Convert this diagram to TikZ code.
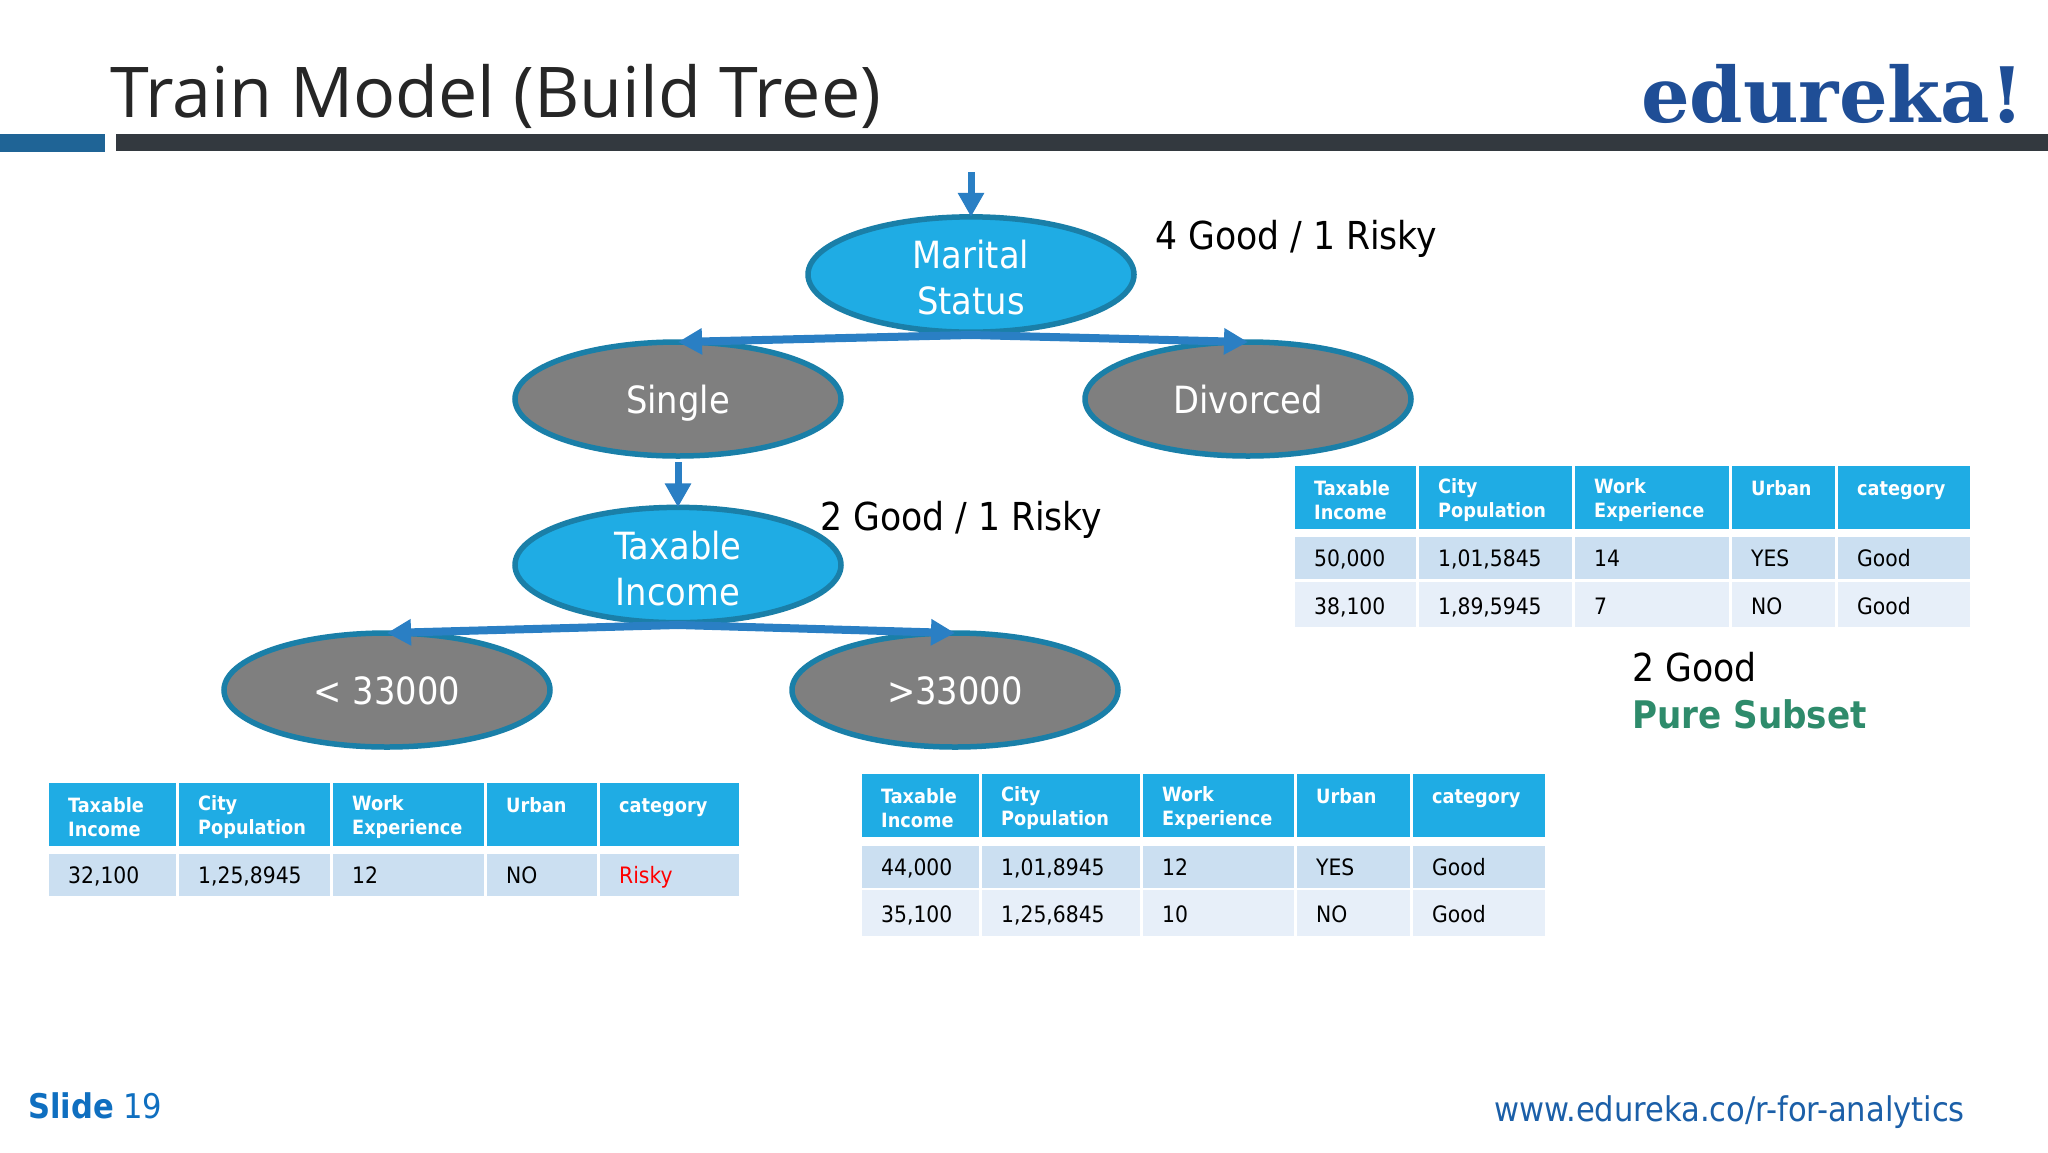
\documentclass[tikz,border=0pt]{standalone}
\usepackage{fontspec}
\usetikzlibrary{shapes.geometric,arrows.meta}
\setmainfont{Open Sans}
\newfontfamily\tah{DejaVu Sans Condensed}
\newfontfamily\logofont{DejaVu Serif}
\definecolor{hdrblue}{HTML}{1FACE4}
\definecolor{rowa}{HTML}{CBDFF1}
\definecolor{rowb}{HTML}{E7EFF9}
\definecolor{ringblue}{HTML}{1A7FA8}
\definecolor{nodegrey}{HTML}{7F7F7F}
\definecolor{arrowblue}{HTML}{2A7FC4}
\definecolor{barblue}{HTML}{1F6496}
\definecolor{bardark}{HTML}{33393F}
\definecolor{puregreen}{HTML}{2E8B6B}
\definecolor{logoblue}{HTML}{1F4E96}
\definecolor{slideblue}{HTML}{0F6FC0}
\definecolor{urlblue}{HTML}{1B5FA8}
\tikzset{
  oval/.style={ellipse,draw=ringblue,line width=5.5pt,minimum width=326pt,minimum height=114pt,inner sep=0pt,outer sep=0pt,text=white,align=center,font=\tah\fontsize{37.5}{46}\selectfont},
  blueoval/.style={oval,fill=hdrblue},
  greyoval/.style={oval,fill=nodegrey},
  flow/.style={draw=arrowblue,line width=7pt,-{Triangle[width=25pt,length=24pt]}},
  branch/.style={flow,line width=8pt},
  cellbox/.style={rectangle,inner sep=0pt,outer sep=0pt},
  hdrtext/.style={anchor=west,inner sep=0pt,align=left,text=white,yshift=-3pt,font=\tah\bfseries\fontsize{19.7}{24}\selectfont},
  celltext/.style={anchor=west,inner sep=0pt,text height=17pt,text depth=5pt,yshift=-2pt,font=\tah\fontsize{22.6}{27}\selectfont},
  celltextb/.style={celltext,yshift=-1.5pt},
  score/.style={anchor=west,inner sep=0pt,font=\tah\fontsize{38.5}{46}\selectfont},
}
% \trow{fill}{y1}{y2}{text style}{a/b/text,...}
\newcommand{\trow}[5]{%
  \foreach \ca/\cb/\ct in {#5}{%
    \pgfmathsetlengthmacro{\cellw}{\cb-\ca}%
    \pgfmathsetlengthmacro{\cellh}{#3-#2}%
    \pgfmathsetmacro{\cx}{(\ca+\cb)/2}%
    \pgfmathsetmacro{\cy}{(#2+#3)/2}%
    \node[cellbox,fill=#1,minimum width=\cellw,minimum height=\cellh] (b\ca r#2) at (\cx,\cy) {};
    \node[#4] (t\ca r#2) at ([xshift=19pt]b\ca r#2.west) {\ct};
  }%
}
\newcommand{\toppad}{\rule{0pt}{35pt}}
\newcommand{\midpad}{\rule[-9pt]{0pt}{47pt}}
\begin{document}
\begin{tikzpicture}[x=1pt,y=-1pt]
\useasboundingbox (0,0) rectangle (2048,1152);
\fill[white] (0,0) rectangle (2048,1152);
% header
\fill[barblue] (0,134) rectangle (105,152);
\fill[bardark] (116,134) rectangle (2048,151);
\node[anchor=base west,inner sep=0pt,text=black!85,font=\fontsize{70}{80}\selectfont] (title) at (110,117) {Train Model (Build Tree)};
\node[anchor=base west,inner sep=0pt,text=logoblue,font=\logofont\bfseries\fontsize{76.5}{90}\selectfont] (logo) at (1641,122) {edureka!};
% tree
\node[blueoval] (marital) at (971,274.5) {\toppad Marital\\Status};
\node[greyoval] (single) at (678,399) {\midpad Single};
\node[greyoval] (divorced) at (1248,399) {\midpad Divorced};
\node[blueoval] (taxable) at (678,565) {\toppad Taxable\\Income};
\node[greyoval] (low) at (387,690) {\midpad{<} 33000};
\node[greyoval] (high) at (955,690) {\midpad>33000};
\coordinate (entry) at (971,172);
\coordinate (mfork) at (971,335);
\coordinate (sdrop) at (678,462);
\coordinate (tfork) at (678,625);
\draw[flow] (entry) -- (marital.north);
\draw[branch] (mfork) -- (single.north);
\draw[branch] (mfork) -- (divorced.north);
\draw[flow] (sdrop) -- (taxable.north);
\draw[branch] (tfork) -- (low.north);
\draw[branch] (tfork) -- (high.north);
\node[score] (s1) at (1155,239) {4 Good / 1 Risky};
\node[score] (s2) at (820,520) {2 Good / 1 Risky};
\node[score] (s3) at (1632,667) {2 Good};
\node[score,text=puregreen,font=\tah\bfseries\fontsize{38}{46}\selectfont] (s4) at (1632,714) {Pure Subset};
% right table
\trow{hdrblue}{466}{529}{hdrtext}{1295/1416/{Taxable\\Income},1419/1572/{City\\Population},1575/1729/{Work\\Experience},1732/1835/{Urban\\\mbox{}},1838/1970/{category\\\mbox{}}}
\trow{rowa}{537}{579}{celltext}{1295/1416/{50,000},1419/1572/{1,01,5845},1575/1729/{14},1732/1835/{YES},1838/1970/{Good}}
\trow{rowb}{582}{627}{celltextb}{1295/1416/{38,100},1419/1572/{1,89,5945},1575/1729/{7},1732/1835/{NO},1838/1970/{Good}}
% left table
\trow{hdrblue}{783}{846}{hdrtext}{49/176/{Taxable\\Income},179/330/{City\\Population},333/484/{Work\\Experience},487/597/{Urban\\\mbox{}},600/739/{category\\\mbox{}}}
\trow{rowa}{854}{896}{celltext}{49/176/{32,100},179/330/{1,25,8945},333/484/{12},487/597/{NO},600/739/{\textcolor{red}{Risky}}}
% middle table
\trow{hdrblue}{774}{837}{hdrtext}{862/979/{Taxable\\Income},982/1140/{City\\Population},1143/1294/{Work\\Experience},1297/1410/{Urban\\\mbox{}},1413/1545/{category\\\mbox{}}}
\trow{rowa}{846}{888}{celltext}{862/979/{44,000},982/1140/{1,01,8945},1143/1294/{12},1297/1410/{YES},1413/1545/{Good}}
\trow{rowb}{890}{936}{celltextb}{862/979/{35,100},982/1140/{1,25,6845},1143/1294/{10},1297/1410/{NO},1413/1545/{Good}}
% footer
\node[anchor=base west,inner sep=0pt,text=slideblue,font=\tah\fontsize{34}{40}\selectfont] (slide) at (28,1118) {\textbf{Slide} 19};
\node[anchor=base east,inner sep=0pt,text=urlblue,font=\tah\fontsize{34}{40}\selectfont] (url) at (1965,1121) {www.edureka.co/r-for-analytics};
\end{tikzpicture}
\end{document}
